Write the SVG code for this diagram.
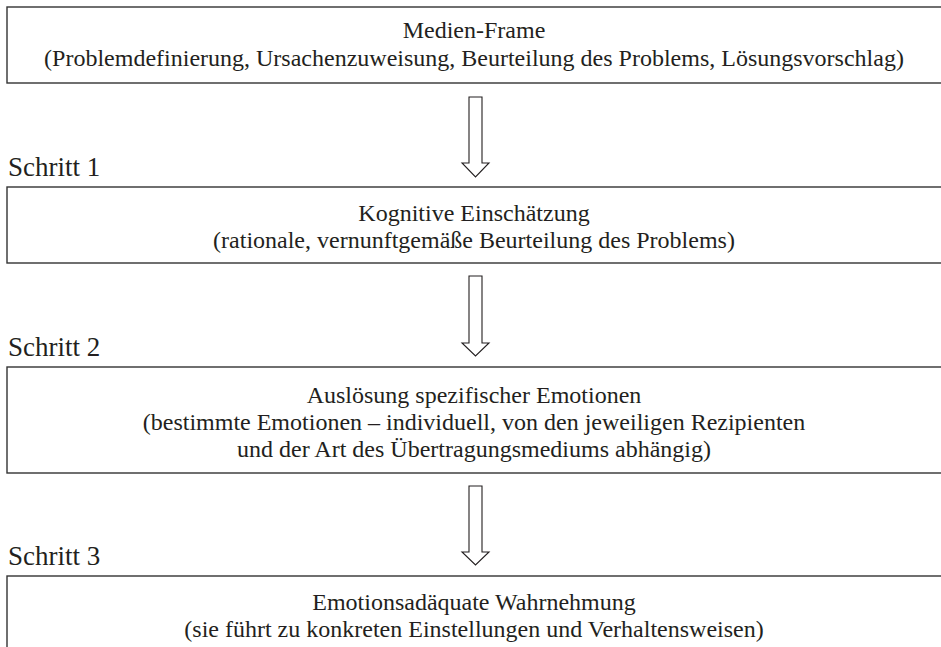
<svg xmlns="http://www.w3.org/2000/svg" width="941" height="647" viewBox="0 0 941 647">
<style>
.box{fill:#fff;stroke:#333;stroke-width:1.4}
.t{font-family:"Liberation Serif","Times New Roman",serif;font-size:24px;fill:#231f20;text-anchor:middle}
.s{font-family:"Liberation Serif","Times New Roman",serif;font-size:27px;fill:#231f20}
.arr{fill:#fff;stroke:#231f20;stroke-width:1.1;stroke-linejoin:miter}
</style>
<rect width="941" height="647" fill="#fff"/>
<g id="node1">
<rect class="box" x="7" y="7" width="945" height="76"/>
<text class="t" x="474" y="37.5">Medien-Frame</text>
<text class="t" x="474" y="65.5">(Problemdefinierung, Ursachenzuweisung, Beurteilung des Problems, Lösungsvorschlag)</text>
</g>
<g id="label1"><text class="s" x="8" y="176">Schritt 1</text></g>
<g id="node2">
<rect class="box" x="7" y="187" width="945" height="76"/>
<text class="t" x="474" y="220.5">Kognitive Einschätzung</text>
<text class="t" x="474" y="248">(rationale, vernunftgemäße Beurteilung des Problems)</text>
</g>
<g id="label2"><text class="s" x="8" y="356">Schritt 2</text></g>
<g id="node3">
<rect class="box" x="7" y="367" width="945" height="106"/>
<text class="t" x="474" y="403">Auslösung spezifischer Emotionen</text>
<text class="t" x="474" y="430">(bestimmte Emotionen – individuell, von den jeweiligen Rezipienten</text>
<text class="t" x="474" y="457">und der Art des Übertragungsmediums abhängig)</text>
</g>
<g id="label3"><text class="s" x="8" y="565">Schritt 3</text></g>
<g id="node4">
<rect class="box" x="7" y="576" width="945" height="90"/>
<text class="t" x="474" y="609.5">Emotionsadäquate Wahrnehmung</text>
<text class="t" x="474" y="637">(sie führt zu konkreten Einstellungen und Verhaltensweisen)</text>
</g>
<g id="connectors">
<polygon class="arr" points="469,97 482,97 482,163 489,163 475.5,177 462,163 469,163"/>
<polygon class="arr" points="469,276 482,276 482,343 489,343 475.5,356 462,343 469,343"/>
<polygon class="arr" points="469,486 482,486 482,552 489,552 475.5,565 462,552 469,552"/>
</g>
</svg>
